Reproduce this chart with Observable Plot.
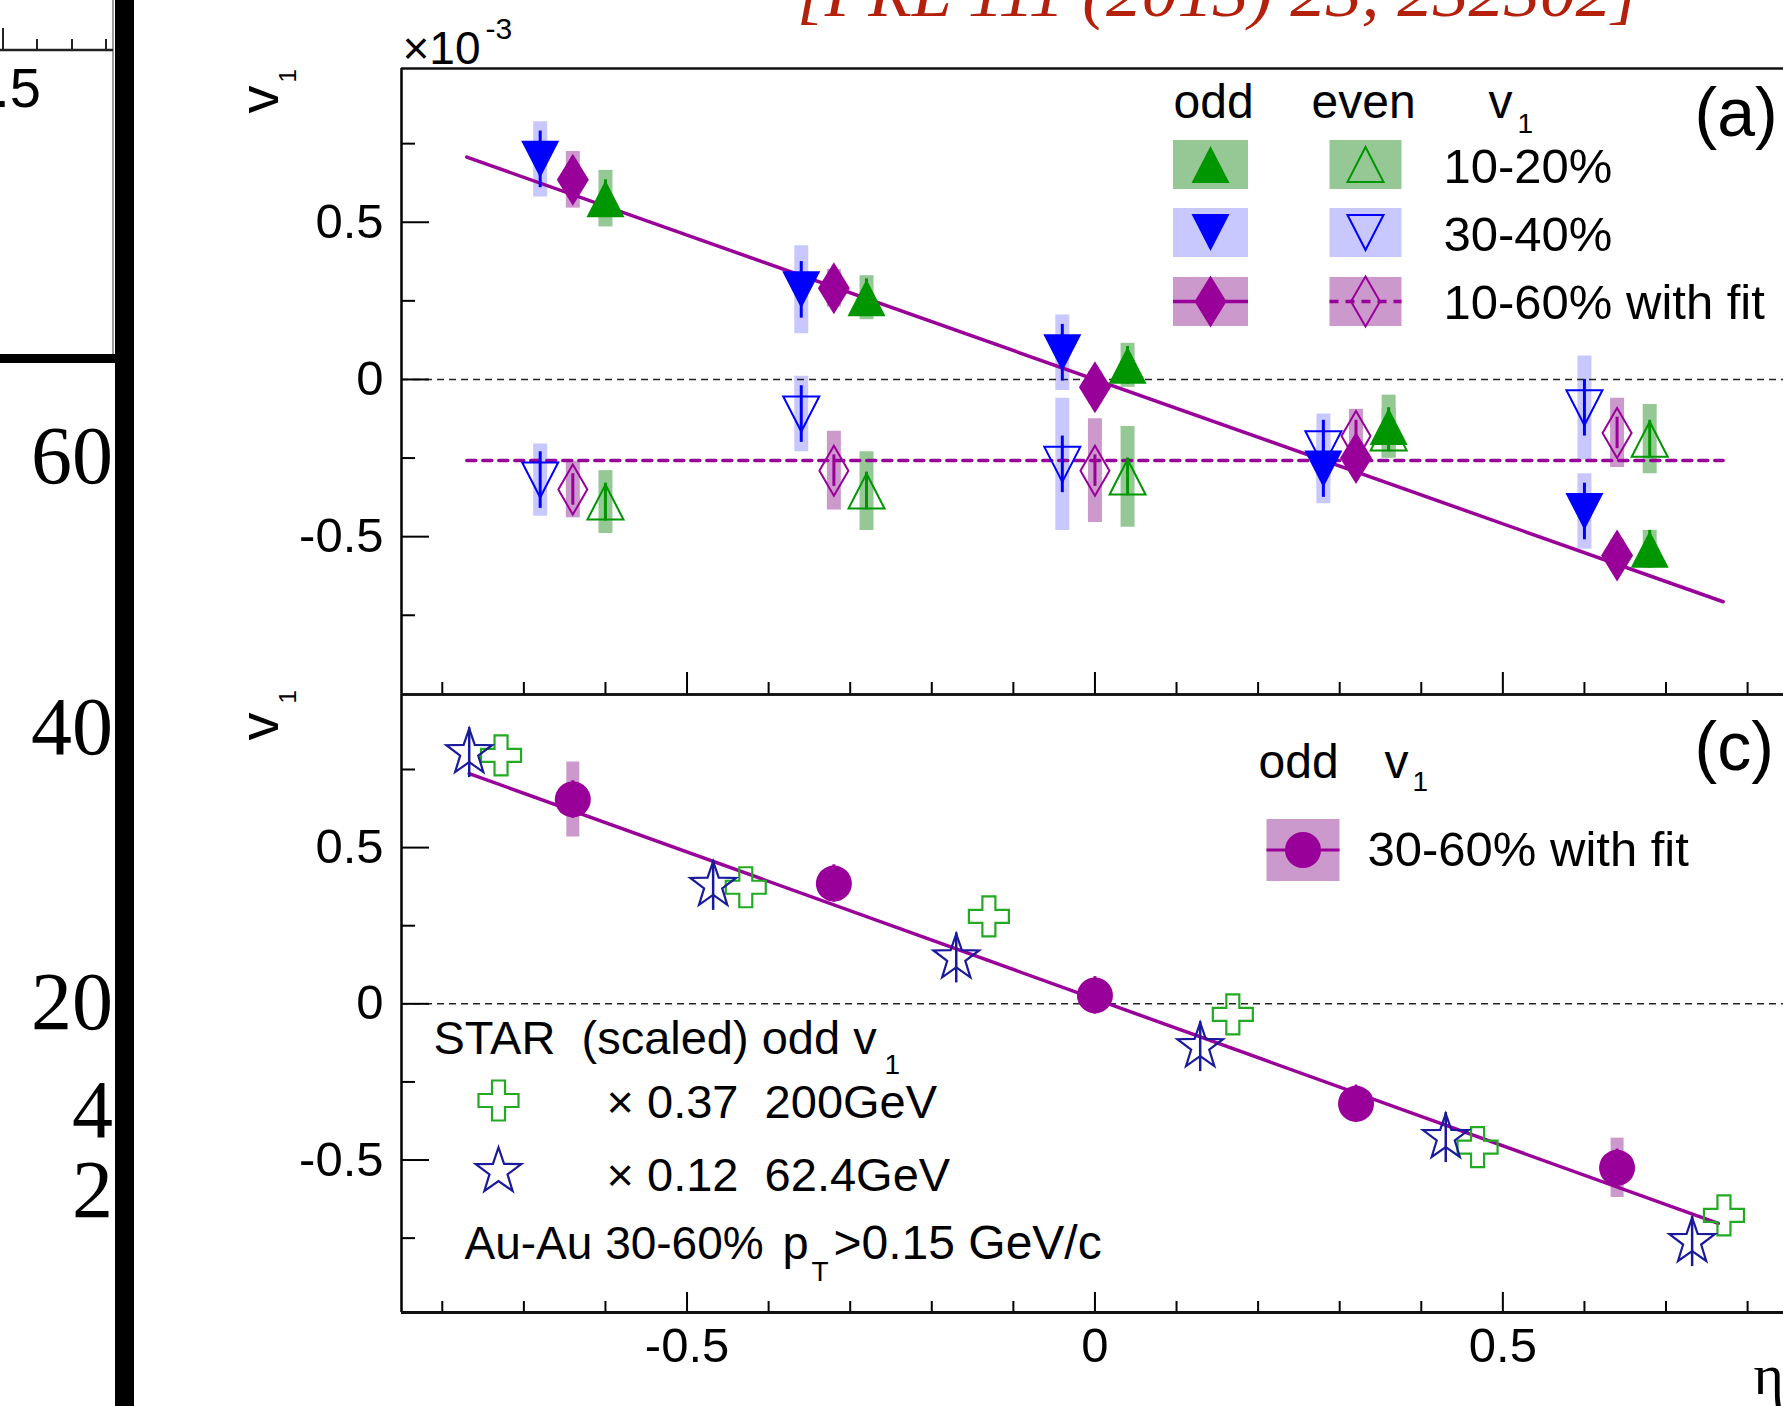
<!DOCTYPE html>
<html>
<head>
<meta charset="utf-8">
<script src="https://cdn.jsdelivr.net/npm/d3@7"></script>
<script src="https://cdn.jsdelivr.net/npm/@observablehq/plot@0.6"></script>
<style>
  html, body { margin: 0; padding: 0; background: #fff; width: 1783px; height: 1406px; overflow: hidden; }
  #page { position: relative; width: 1783px; height: 1406px; overflow: hidden; background: #fff; }
  #page > svg { position: absolute; left: 0; top: 0; max-width: none !important; }
</style>
</head>
<body>
<div id="page">
  <svg id="deco" width="1783" height="1406" xmlns="http://www.w3.org/2000/svg">
    <text x="797" y="16" font-family="'Liberation Serif', 'Times New Roman', serif" font-style="italic" font-size="68" fill="#b4200c" textLength="842" lengthAdjust="spacingAndGlyphs">[PRL 111 (2013) 23, 232302]</text>
    <rect x="115" y="0" width="19" height="1406" fill="#000"/>
    <rect x="0" y="354" width="115" height="9" fill="#000"/>
    <line x1="113" y1="0" x2="113" y2="354" stroke="#999" stroke-width="2"/>
    <line x1="0" y1="50" x2="113" y2="50" stroke="#222" stroke-width="2.5"/>
    <line x1="3" y1="28" x2="3" y2="50" stroke="#222" stroke-width="2"/>
    <line x1="37" y1="39" x2="37" y2="50" stroke="#222" stroke-width="2"/>
    <line x1="72" y1="39" x2="72" y2="50" stroke="#222" stroke-width="2"/>
    <line x1="106" y1="39" x2="106" y2="50" stroke="#222" stroke-width="2"/>
    <text x="41" y="107" font-family="'Liberation Sans', Arial, sans-serif" font-size="56" text-anchor="end">.5</text>
    <g font-family="'Liberation Serif', 'Times New Roman', serif" font-size="82" text-anchor="end" fill="#000">
      <text x="113" y="483">60</text>
      <text x="113" y="754">40</text>
      <text x="113" y="1029">20</text>
      <text x="113" y="1137">4</text>
      <text x="113" y="1217">2</text>
    </g>
  </svg>
</div>
<script>
// ---------------- DATA ----------------
// Panel (a): v1 (x10^-3) vs eta
const eta3040 = [-0.68, -0.36, -0.04, 0.28, 0.60];
const eta1060 = [-0.64, -0.32, 0.00, 0.32, 0.64];
const eta1020 = [-0.60, -0.28, 0.04, 0.36, 0.68];

const odd3040     = [0.70, 0.285, 0.085, -0.285, -0.42];
const odd3040Stat = [0.09, 0.09, 0.09, 0.09, 0.09];
const odd3040Sys  = [0.12, 0.14, 0.12, 0.11, 0.12];
const even3040     = [-0.32, -0.11, -0.27, -0.22, -0.09];
const even3040Stat = [0.09, 0.09, 0.09, 0.09, 0.09];
const even3040Sys  = [0.115, 0.12, 0.21, 0.11, 0.165];

const odd1060     = [0.635, 0.29, -0.025, -0.25, -0.56];
const odd1060Stat = [0.04, 0.04, 0.04, 0.04, 0.04];
const odd1060Sys  = [0.09, 0.06, 0.05, 0.05, 0.05];
const even1060     = [-0.35, -0.29, -0.29, -0.18, -0.17];
const even1060Stat = [0.05, 0.05, 0.05, 0.05, 0.05];
const even1060Sys  = [0.09, 0.125, 0.165, 0.085, 0.11];

const odd1020     = [0.575, 0.26, 0.045, -0.15, -0.54];
const odd1020Stat = [0.06, 0.06, 0.06, 0.06, 0.06];
const odd1020Sys  = [0.09, 0.07, 0.07, 0.10, 0.06];
const even1020     = [-0.39, -0.355, -0.31, -0.17, -0.19];
const even1020Stat = [0.06, 0.06, 0.06, 0.06, 0.06];
const even1020Sys  = [0.10, 0.125, 0.16, 0.08, 0.11];

const fitOddEta  = [-0.77, 0.77];
const fitOddV    = [0.707, -0.707];
const fitEvenEta = [-0.77, 0.77];
const fitEvenV   = [-0.258, -0.258];

// Panel (c)
const eta3060     = [-0.64, -0.32, 0.00, 0.32, 0.64];
const v3060       = [0.654, 0.385, 0.027, -0.32, -0.525];
const v3060Stat   = [0.06, 0.06, 0.06, 0.06, 0.06];
const v3060Sys    = [0.12, 0.05, 0.05, 0.05, 0.095];
const fit3060Eta  = [-0.767, 0.764];
const fit3060V    = [0.737, -0.703];
const etaStar62   = [-0.767, -0.468, -0.170, 0.129, 0.430, 0.732];
const vStar62     = [0.804, 0.379, 0.147, -0.137, -0.428, -0.761];
const vStar62Stat = [0.08, 0.08, 0.08, 0.08, 0.08, 0.08];
const etaStar200  = [-0.728, -0.428, -0.130, 0.169, 0.469, 0.771];
const vStar200    = [0.795, 0.373, 0.28, -0.034, -0.459, -0.677];

// Axis ticks
const xMajor = [-0.5, 0, 0.5];
const xMinor = [-0.8, -0.7, -0.6, -0.4, -0.3, -0.2, -0.1, 0.1, 0.2, 0.3, 0.4, 0.6, 0.7, 0.8];
const yMajor = [-0.5, 0, 0.5];
const yMinor = [-0.75, -0.25, 0.25, 0.75];

// ---------------- LAYOUT ----------------
const W = 1783, H = 1406;
const ML = 401, TOP = 68, MID = 694, BOT = 1312;
const xDomain = [-0.85, 0.844];
const yUpper = [-1.002, 0.989];
const yLower = [-0.988, 0.99];

const FONT = "'Liberation Sans', Arial, Helvetica, sans-serif";
const SERIF = "'Liberation Serif', 'Times New Roman', serif";
const GREEN = "#009600", GREEN_BOX = "#96c896";
const BLUE = "#0000ff", BLUE_BOX = "#c8c8ff";
const PURPLE = "#990099", PURPLE_BOX = "#cc99cc";
const CROSS_GREEN = "#22aa22", STAR_BLUE = "#1a1a9c";

// ---------------- SYMBOLS ----------------
const sym = fn => ({draw(c) { fn(c); }});
const triUp = (w, h) => sym(c => { c.moveTo(0, -h / 2); c.lineTo(w / 2, h / 2); c.lineTo(-w / 2, h / 2); c.closePath(); });
const triDown = (w, h) => sym(c => { c.moveTo(0, h / 2); c.lineTo(w / 2, -h / 2); c.lineTo(-w / 2, -h / 2); c.closePath(); });
const diamond = (w, h) => sym(c => { c.moveTo(0, -h / 2); c.lineTo(w / 2, 0); c.lineTo(0, h / 2); c.lineTo(-w / 2, 0); c.closePath(); });
const rectSym = (w, h) => sym(c => { c.rect(-w / 2, -h / 2, w, h); });
const hline = w => sym(c => { c.moveTo(-w / 2, 0); c.lineTo(w / 2, 0); });
const circ = r => sym(c => { c.moveTo(r, 0); c.arc(0, 0, r, 0, 2 * Math.PI); c.closePath(); });
const crossSym = (s, a) => sym(c => {
  c.moveTo(-a, -s); c.lineTo(a, -s); c.lineTo(a, -a); c.lineTo(s, -a); c.lineTo(s, a); c.lineTo(a, a);
  c.lineTo(a, s); c.lineTo(-a, s); c.lineTo(-a, a); c.lineTo(-s, a); c.lineTo(-s, -a); c.lineTo(-a, -a); c.closePath();
});
const starSym = (R, r) => sym(c => {
  for (let i = 0; i < 10; i++) {
    const ang = -Math.PI / 2 + i * Math.PI / 5, rr = i % 2 ? r : R;
    const x = rr * Math.cos(ang), y = rr * Math.sin(ang);
    if (i) c.lineTo(x, y); else c.moveTo(x, y);
  }
  c.closePath();
});

const S = {
  triUpF: triUp(38, 37), triDownF: triDown(38, 37), diamF: diamond(32, 52),
  triUpO: triUp(36, 35), triDownO: triDown(36, 35), diamO: diamond(29, 50),
  circle: circ(18), cross: crossSym(20, 6.5), star: starSym(24, 9.5)
};

// ---------------- HELPERS ----------------
const rows = (eta, v, stat, sys) => eta.map((e, i) => ({eta: e, v: v[i], stat: stat ? stat[i] : 0, sys: sys ? sys[i] : 0}));
const sysBoxes = (d, color, w = 14) => Plot.ruleX(d, {x: "eta", y1: r => r.v - r.sys, y2: r => r.v + r.sys, stroke: color, strokeWidth: w});
const statBars = (d, color, w = 3) => Plot.ruleX(d, {x: "eta", y1: r => r.v - r.stat, y2: r => r.v + r.stat, stroke: color, strokeWidth: w});
const markers = (d, symbol, fill, stroke, sw = 0) => Plot.dot(d, {x: "eta", y: "v", symbol, fill, stroke, strokeWidth: sw});
const T = (s, dx, dy, size, o = {}) => Plot.text([s], {frameAnchor: "top-left", dx, dy, text: d => d, textAnchor: "start", lineAnchor: "bottom", fontSize: size, fill: "#000", fontFamily: FONT, ...o});
const M = (symbol, dx, dy, o = {}) => Plot.dot([0], {frameAnchor: "top-left", dx, dy, symbol, ...o});

function frameAndTicks(yDom, fw, fh, xMajLen, xMinLen, lineW) {
  return [
    Plot.ruleY(yMajor, {insetRight: fw - 28, stroke: "#000", strokeWidth: 2}),
    Plot.ruleY(yMinor, {insetRight: fw - 14, stroke: "#000", strokeWidth: 2}),
    Plot.ruleX(xMajor, {insetTop: fh - xMajLen, stroke: "#000", strokeWidth: 2}),
    Plot.ruleX(xMinor, {insetTop: fh - xMinLen, stroke: "#000", strokeWidth: 2}),
    Plot.ruleX([xDomain[0]], {stroke: "#000", strokeWidth: 2.5}),
    Plot.ruleY([yDom[1]], {stroke: "#111", strokeWidth: 2.5}),
    Plot.ruleY([yDom[0]], {stroke: "#111", strokeWidth: lineW}),
    Plot.axisY({ticks: yMajor, tickSize: 0, tickPadding: 18, fontSize: 49, tickFormat: d => String(d), label: null, fontFamily: FONT})
  ];
}

const baseStyle = {fontFamily: FONT, background: "transparent", overflow: "visible", maxWidth: "none"};

// ---------------- UPPER PANEL (a) ----------------
const o3040 = rows(eta3040, odd3040, odd3040Stat, odd3040Sys);
const e3040 = rows(eta3040, even3040, even3040Stat, even3040Sys);
const o1060 = rows(eta1060, odd1060, odd1060Stat, odd1060Sys);
const e1060 = rows(eta1060, even1060, even1060Stat, even1060Sys);
const o1020 = rows(eta1020, odd1020, odd1020Stat, odd1020Sys);
const e1020 = rows(eta1020, even1020, even1020Stat, even1020Sys);
const fitOdd = rows(fitOddEta, fitOddV);
const fitEven = rows(fitEvenEta, fitEvenV);

const fwU = W - ML, fhU = MID - TOP;
const upper = Plot.plot({
  width: W, height: H,
  marginLeft: ML, marginRight: 0, marginTop: TOP, marginBottom: H - MID,
  x: {domain: xDomain, axis: null},
  y: {domain: yUpper, axis: null},
  style: baseStyle,
  marks: [
    sysBoxes(e3040, BLUE_BOX), sysBoxes(o3040, BLUE_BOX),
    sysBoxes(e1060, PURPLE_BOX), sysBoxes(o1060, PURPLE_BOX),
    sysBoxes(e1020, GREEN_BOX), sysBoxes(o1020, GREEN_BOX),
    Plot.ruleY([0], {stroke: "#222", strokeWidth: 1.6, strokeDasharray: "7,5"}),
    Plot.line(fitOdd, {x: "eta", y: "v", stroke: PURPLE, strokeWidth: 3.5}),
    Plot.line(fitEven, {x: "eta", y: "v", stroke: PURPLE, strokeWidth: 3.5, strokeDasharray: "9,7"}),
    statBars(e3040, BLUE), statBars(o3040, BLUE),
    statBars(e1060, PURPLE), statBars(o1060, PURPLE),
    statBars(e1020, GREEN), statBars(o1020, GREEN),
    markers(e3040, S.triDownO, "none", BLUE, 2),
    markers(e1060, S.diamO, "none", PURPLE, 2),
    markers(e1020, S.triUpO, "none", GREEN, 2),
    markers(o3040, S.triDownF, BLUE, "none"),
    markers(o1060, S.diamF, PURPLE, "none"),
    markers(o1020, S.triUpF, GREEN, "none"),
    ...frameAndTicks(yUpper, fwU, fhU, 22, 12, 2.5),
    // axis title and exponent
    T("×10", 1, -5, 46),
    T("-3", 84, -30, 30),
    T("v", -124, 45, 56, {rotate: -90}),
    T("1", -106, 14, 24, {rotate: -90}),
    // legend (a)
    T("odd", 772, 49, 48),
    T("even", 910, 49, 48),
    T("v", 1087, 49, 48),
    T("1", 1116, 64, 28),
    T("(a)", 1293, 67, 68),
    M(rectSym(75, 49), 809, 96, {fill: GREEN_BOX}),
    M(rectSym(72, 49), 964, 96, {fill: GREEN_BOX}),
    M(rectSym(75, 49), 809, 164, {fill: BLUE_BOX}),
    M(rectSym(72, 49), 964, 164, {fill: BLUE_BOX}),
    M(rectSym(75, 49), 809, 233, {fill: PURPLE_BOX}),
    M(rectSym(72, 49), 964, 233, {fill: PURPLE_BOX}),
    M(S.triUpF, 809, 96, {fill: GREEN, stroke: "none"}),
    M(S.triUpO, 964, 96, {fill: "none", stroke: GREEN, strokeWidth: 2}),
    M(S.triDownF, 809, 164, {fill: BLUE, stroke: "none"}),
    M(S.triDownO, 964, 164, {fill: "none", stroke: BLUE, strokeWidth: 2}),
    M(hline(75), 809, 233, {fill: "none", stroke: PURPLE, strokeWidth: 3.5}),
    M(hline(72), 964, 233, {fill: "none", stroke: PURPLE, strokeWidth: 3.5, strokeDasharray: "9,7"}),
    M(S.diamF, 809, 233, {fill: PURPLE, stroke: "none"}),
    M(S.diamO, 964, 233, {fill: "none", stroke: PURPLE, strokeWidth: 2}),
    T("10-20%", 1042, 114, 49),
    T("30-40%", 1042, 182, 49),
    T("10-60% with fit", 1042, 250, 49)
  ]
});

// ---------------- LOWER PANEL (c) ----------------
const c3060 = rows(eta3060, v3060, v3060Stat, v3060Sys);
const fit3060 = rows(fit3060Eta, fit3060V);
const s62 = rows(etaStar62, vStar62, vStar62Stat);
const s200 = rows(etaStar200, vStar200);

const fwL = W - ML, fhL = BOT - MID;
const lower = Plot.plot({
  width: W, height: H,
  marginLeft: ML, marginRight: 0, marginTop: MID, marginBottom: H - BOT,
  x: {domain: xDomain, axis: null},
  y: {domain: yLower, axis: null},
  style: baseStyle,
  marks: [
    sysBoxes(c3060, PURPLE_BOX, 13),
    Plot.ruleY([0], {stroke: "#222", strokeWidth: 1.6, strokeDasharray: "7,5"}),
    Plot.line(fit3060, {x: "eta", y: "v", stroke: PURPLE, strokeWidth: 3.5}),
    statBars(c3060, PURPLE),
    statBars(s62, STAR_BLUE, 2.5),
    markers(s200, S.cross, "none", CROSS_GREEN, 2.2),
    markers(s62, S.star, "none", STAR_BLUE, 2.2),
    markers(c3060, S.circle, PURPLE, "none"),
    ...frameAndTicks(yLower, fwL, fhL, 20, 11, 3),
    Plot.axisX({anchor: "bottom", ticks: xMajor, tickSize: 0, tickPadding: 15, fontSize: 49, tickFormat: d => String(d), label: null, fontFamily: FONT}),
    T("η", 1352, 699, 58, {fontFamily: SERIF}),
    T("v", -124, 46, 56, {rotate: -90}),
    T("1", -106, 9, 24, {rotate: -90}),
    // legend (c)
    T("odd", 857, 83, 48),
    T("v", 983, 83, 48),
    T("1", 1011, 96, 28),
    T("(c)", 1293, 75, 68),
    M(rectSym(73, 62), 901.5, 155.5, {fill: PURPLE_BOX}),
    M(hline(73), 901.5, 155.5, {fill: "none", stroke: PURPLE, strokeWidth: 3}),
    M(S.circle, 901.5, 155.5, {fill: PURPLE, stroke: "none"}),
    T("30-60% with fit", 966, 171, 49),
    // STAR block
    T("STAR\u00a0\u00a0(scaled) odd v", 32, 359, 47),
    T("1", 483, 379, 28),
    M(S.cross, 97, 406, {fill: "none", stroke: CROSS_GREEN, strokeWidth: 2.2}),
    T("×\u00a00.37\u00a0\u00a0200GeV", 205, 423, 47),
    M(S.star, 97, 477, {fill: "none", stroke: STAR_BLUE, strokeWidth: 2.2}),
    T("×\u00a00.12\u00a0\u00a062.4GeV", 205, 496, 47),
    T("Au-Au 30-60%", 63, 564, 46),
    T("p", 381, 564, 47),
    T("T", 410, 586, 28),
    T(">0.15 GeV/c", 432, 564, 48)
  ]
});

const page = document.getElementById("page");
page.append(upper, lower);
</script>
</body>
</html>
